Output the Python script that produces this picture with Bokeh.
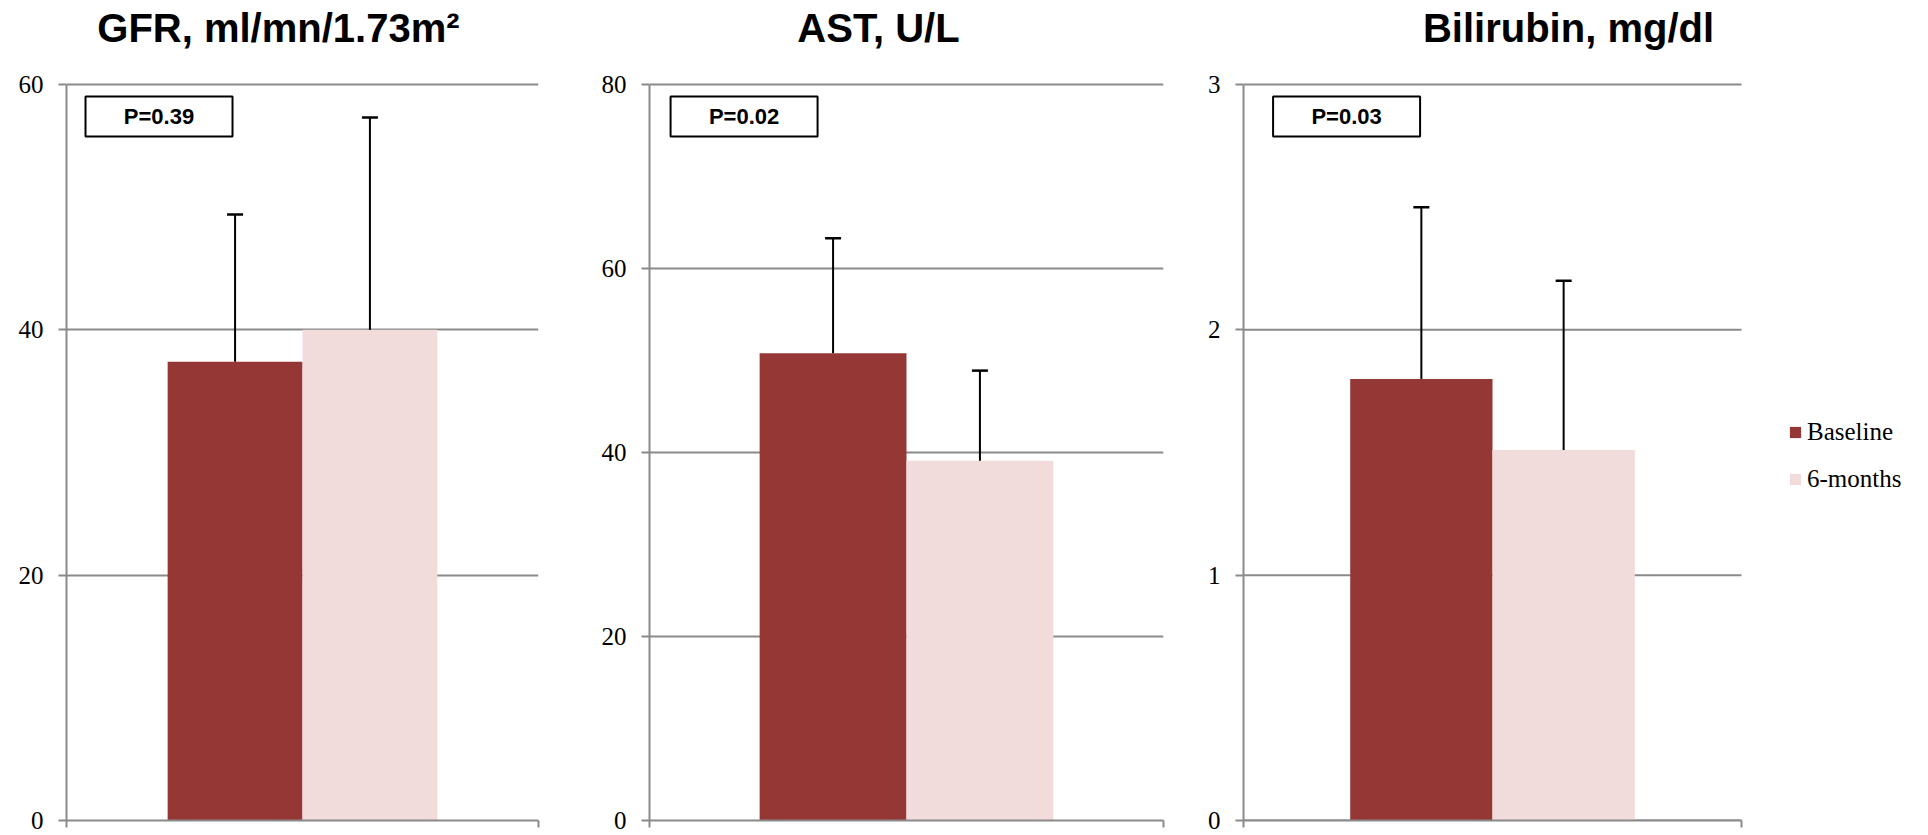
from bokeh.plotting import figure
from bokeh.layouts import row
from bokeh.models import (ColumnDataSource, Range1d, FixedTicker, LinearAxis,
                          Whisker, TeeHead, Label, Legend, LegendItem)
from bokeh.embed import file_html
from bokeh.resources import INLINE

# ---------------- data ----------------
titles = ["GFR, ml/mn/1.73m²", "AST, U/L", "Bilirubin, mg/dl"]
categories = ["GFR", "AST", "Bilirubin"]
series_names = ["Baseline", "6-months"]
baseline_mean = [37.4, 50.8, 1.80]
baseline_sd = [12.0, 12.5, 0.70]
month6_mean = [40.0, 39.1, 1.51]
month6_sd = [17.3, 9.8, 0.69]
p_values = ["P=0.39", "P=0.02", "P=0.03"]
y_max = [60, 80, 3]
y_ticks = [[0, 20, 40, 60], [0, 20, 40, 60, 80], [0, 1, 2, 3]]

# ---------------- style / layout ----------------
COLORS = ["#953735", "#F2DCDB"]
GRID = "#8A8A8A"
PLOT_W = [472, 514, 498]           # width of the plotting area (one category)
EXTRA_W = [0, 0, 180]              # room for the legend inside the last frame
BORDER_L = [66, 58, 58]
BORDER_R = [53, 22, 0]
FIG_H = 835
FRAME_H = 820                      # frame starts at top of figure (titles live inside it)
PLOT_TOP = 84                      # pixel row of the top gridline
BORDER_B = FIG_H - FRAME_H
TITLE_X = [0.449, 0.4455, 0.6526]
PBOX_X = [0.196, 0.184, 0.207]
BAR_W = 2 / 7                      # Excel gap width 150 %
SERIF = "Liberation Serif"
SANS = "Liberation Sans"

figs = []
for i in range(3):
    ymax = y_max[i]
    y_end = ymax * FRAME_H / (FRAME_H - PLOT_TOP)
    frame_w = PLOT_W[i] + EXTRA_W[i]
    x_end = frame_w / PLOT_W[i]
    p = figure(width=BORDER_L[i] + frame_w + BORDER_R[i], height=FIG_H,
               x_range=Range1d(0, x_end), y_range=Range1d(0, y_end),
               x_axis_location=None, output_backend="svg", toolbar_location=None,
               min_border_left=BORDER_L[i], min_border_right=BORDER_R[i],
               min_border_top=0, min_border_bottom=BORDER_B)
    p.outline_line_color = None
    p.background_fill_color = "white"
    p.border_fill_color = "white"

    # y axis
    ya = p.yaxis[0]
    ya.ticker = FixedTicker(ticks=y_ticks[i])
    ya.bounds = (0, ymax)
    ya.minor_tick_line_color = None
    ya.major_tick_in = 0
    ya.major_tick_out = 8
    ya.major_tick_line_color = GRID
    ya.major_tick_line_width = 2
    ya.axis_line_color = GRID
    ya.axis_line_width = 2
    ya.major_label_text_font = SERIF
    ya.major_label_text_font_size = "25px"
    ya.major_label_text_color = "black"
    ya.major_label_standoff = 15

    # bottom category axis: ticks at the category boundaries
    xa = LinearAxis(ticker=FixedTicker(ticks=[0, 1]), bounds=(0, 1),
                    major_label_overrides={0: "", 1: ""}, major_label_standoff=0,
                    major_tick_in=0, major_tick_out=7, major_tick_line_color=GRID,
                    major_tick_line_width=2, minor_tick_line_color=None,
                    axis_line_color=GRID, axis_line_width=2)
    p.add_layout(xa, "below")

    p.xgrid.visible = False
    if EXTRA_W[i] == 0:
        p.ygrid.grid_line_color = GRID
        p.ygrid.grid_line_width = 2
    else:
        # gridlines limited to the plotting area (legend sits to their right)
        p.ygrid.visible = False
        n = len(y_ticks[i])
        p.segment(x0=[0] * n, x1=[1] * n, y0=y_ticks[i], y1=y_ticks[i],
                  line_color=GRID, line_width=2)

    center = 0.5  # the single category occupies [0, 1]
    off = BAR_W / 2
    src = ColumnDataSource(dict(
        cat=[categories[i]],
        xb=[center - off], xm=[center + off],
        b_mean=[baseline_mean[i]], b_up=[baseline_mean[i] + baseline_sd[i]],
        m_mean=[month6_mean[i]], m_up=[month6_mean[i] + month6_sd[i]],
    ))
    r1 = p.vbar(x="xb", top="b_mean", width=BAR_W, source=src,
                fill_color=COLORS[0], line_color=None)
    r2 = p.vbar(x="xm", top="m_mean", width=BAR_W, source=src,
                fill_color=COLORS[1], line_color=None)

    for xc, lo, up in [("xb", "b_mean", "b_up"), ("xm", "m_mean", "m_up")]:
        w = Whisker(base=xc, lower=lo, upper=up,
                    source=src, dimension="height", line_color="black", line_width=2,
                    upper_head=TeeHead(size=16, line_color="black", line_width=2.5),
                    lower_head=None, level="annotation")
        p.add_layout(w)

    # P-value box
    px_per_unit = (FRAME_H - PLOT_TOP) / ymax
    box_y = ymax - 32 / px_per_unit
    p.rect(x=[PBOX_X[i]], y=[box_y], width=147, height=40, width_units="screen",
           height_units="screen", fill_color="white", line_color="black", line_width=2)
    p.add_layout(Label(x=PBOX_X[i], y=box_y, text=p_values[i], text_font=SANS,
                       text_font_style="bold", text_font_size="22px", text_align="center",
                       text_baseline="middle", text_color="black"))

    # title
    p.add_layout(Label(x=TITLE_X[i], y=ymax, y_offset=57, text=titles[i], text_font=SANS,
                       text_font_style="bold", text_font_size="40px", text_align="center",
                       text_baseline="alphabetic", text_color="black"))

    if EXTRA_W[i] > 0:
        legend = Legend(items=[LegendItem(label=series_names[0], renderers=[r1]),
                               LegendItem(label=series_names[1], renderers=[r2])],
                        location=(545, 327), orientation="vertical",
                        glyph_width=14, glyph_height=14, label_standoff=5,
                        label_height=26, label_text_font=SERIF, label_text_font_size="25px",
                        label_text_color="black", spacing=19, padding=0, margin=0,
                        border_line_color=None, background_fill_alpha=0)
        p.add_layout(legend)
    figs.append(p)

layout = row(*figs)
open("out.html", "w").write(file_html(layout, INLINE))
